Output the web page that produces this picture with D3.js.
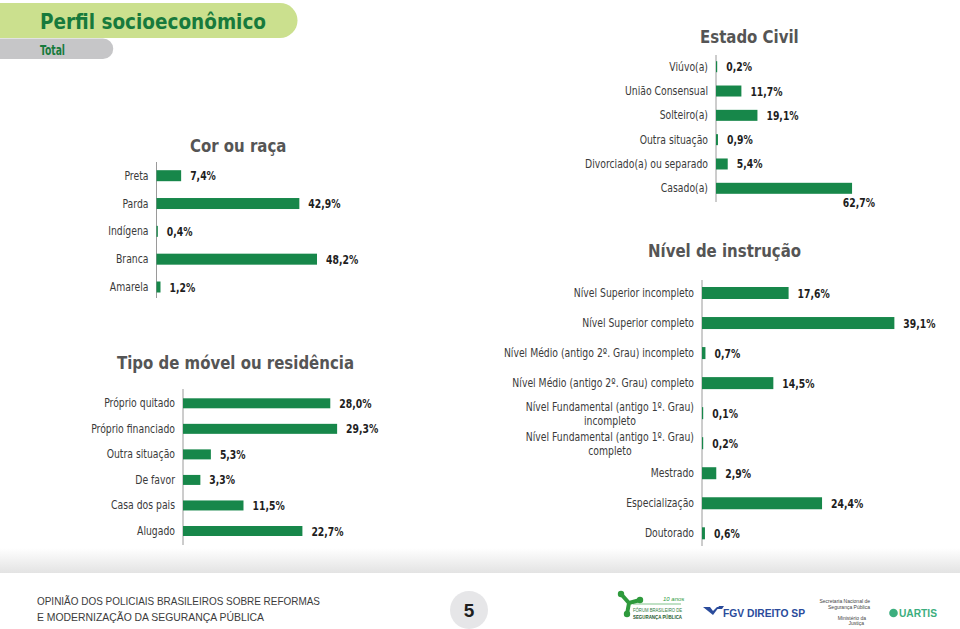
<!DOCTYPE html>
<html><head><meta charset="utf-8">
<script src="https://cdn.jsdelivr.net/npm/d3@7"></script>
<style>
html,body{margin:0;padding:0;background:#fff;}
svg{display:block;}
.cat{font-family:"DejaVu Sans Condensed","Liberation Sans Narrow",sans-serif;font-size:12px;fill:#3a3a3a;}
.val{font-family:"DejaVu Sans Condensed","Liberation Sans Narrow",sans-serif;font-size:12px;font-weight:bold;fill:#1e1e1e;}
.ttl{font-family:"DejaVu Sans Condensed","Liberation Sans Narrow",sans-serif;font-size:18.5px;font-weight:bold;fill:#555;}
</style></head>
<body>
<svg id="c" width="960" height="629"></svg>
<script>
// ---------- DATA ----------
const racaCategories = ["Preta","Parda","Indígena","Branca","Amarela"];
const racaValues = [7.4, 42.9, 0.4, 48.2, 1.2];

const civilCategories = ["Viúvo(a)","União Consensual","Solteiro(a)","Outra situação","Divorciado(a) ou separado","Casado(a)"];
const civilValues = [0.2, 11.7, 19.1, 0.9, 5.4, 62.7];

const instrucaoCategories = ["Nível Superior incompleto","Nível Superior completo","Nível Médio (antigo 2º. Grau) incompleto","Nível Médio (antigo 2º. Grau) completo","Nível Fundamental (antigo 1º. Grau)|incompleto","Nível Fundamental (antigo 1º. Grau)|completo","Mestrado","Especialização","Doutorado"];
const instrucaoValues = [17.6, 39.1, 0.7, 14.5, 0.1, 0.2, 2.9, 24.4, 0.6];

const moradiaCategories = ["Próprio quitado","Próprio financiado","Outra situação","De favor","Casa dos pais","Alugado"];
const moradiaValues = [28.0, 29.3, 5.3, 3.3, 11.5, 22.7];

const panelTitles = ["Cor ou raça","Estado Civil","Nível de instrução","Tipo de móvel ou residência"];
const footerLines = ["OPINIÃO DOS POLICIAIS BRASILEIROS SOBRE REFORMAS","E MODERNIZAÇÃO DA SEGURANÇA PÚBLICA"];
const pageNumber = "5";

// ---------- DRAW ----------
const svg = d3.select("#c");
const green = "#17874a";
const fmt = v => d3.format(".1f")(v).replace(".", ",") + "%";
const K = 0.86;
// text horizontally condensed through a transform
function ntext(parent, cls, x, y, str, anchor, k){
  const t = parent.append("text").attr("class",cls).attr("text-anchor",anchor||"start")
    .attr("x",0).attr("y",0).attr("transform",`translate(${x},${y}) scale(${k||K},1)`).text(str);
  return t;
}

// header
svg.append("path").attr("d","M0,3 H280 A17.5,17.5 0 0 1 280,38 H0 Z").attr("fill","#cbe08e");
svg.append("path").attr("d","M0,38.5 H103 A10.25,10.25 0 0 1 103,59 H0 Z").attr("fill","#c6c6c8");
svg.append("text").attr("x",40).attr("y",28.5).text("Perfil socioeconômico")
  .attr("font-family","'DejaVu Sans Condensed',sans-serif")
  .attr("font-size",21.5).attr("font-weight","bold").attr("fill","#177a3c")
  .attr("textLength",226).attr("lengthAdjust","spacingAndGlyphs");
svg.append("text").attr("x",40).attr("y",55).text("Total")
  .attr("font-family","'DejaVu Sans Condensed',sans-serif")
  .attr("font-size",14).attr("font-weight","bold").attr("fill","#177a3c")
  .attr("textLength",25).attr("lengthAdjust","spacingAndGlyphs");

function panel(o){
  const g = svg.append("g");
  const x = d3.scaleLinear().domain([0, 1]).range([o.axisX, o.axisX + o.pxPerUnit]);
  const y = d3.scalePoint().domain(o.cats).range([o.yFirst, o.yLast]);
  g.append("line").attr("x1",o.axisX).attr("x2",o.axisX)
    .attr("y1",o.axisTop).attr("y2",o.axisBottom).attr("stroke","#9a9a9a").attr("stroke-width",1);
  o.cats.forEach((c,i)=>{
    const v = o.vals[i], cy = y(c);
    g.append("rect").attr("x",x(0)).attr("y",cy - o.barH/2)
      .attr("width",Math.max(1.2, x(v)-x(0))).attr("height",o.barH).attr("fill",green);
    const lines = c.split("|");
    if(lines.length===1){
      ntext(g,"cat",o.axisX-8,cy+4,c,"end");
    } else {
      const t1 = ntext(g,"cat",o.axisX-8,cy-2.5,lines[0],"end");
      const w1 = t1.node().getComputedTextLength()*K;
      ntext(g,"cat",o.axisX-8-w1/2,cy+11.5,lines[1],"middle");
    }
    const vx = Math.max(x(v), x(0)+1.2) + 9;
    if(o.belowIdx===i){
      ntext(g,"val",x(v)+23,cy+19,fmt(v),"end");
    } else {
      ntext(g,"val",vx,cy+4.5,fmt(v),"start");
    }
  });
  ntext(svg,"ttl",o.titleX,o.titleY,o.title,"start",0.9);
}

panel({cats:racaCategories, vals:racaValues, axisX:156.5, pxPerUnit:3.33, yFirst:175.7, yLast:287,
  barH:11, axisTop:162, axisBottom:298, title:panelTitles[0], titleX:190, titleY:152});
panel({cats:civilCategories, vals:civilValues, axisX:716, pxPerUnit:2.17, yFirst:66.7, yLast:188.3,
  barH:11, axisTop:55, axisBottom:202, belowIdx:5, title:panelTitles[1], titleX:700, titleY:43});
panel({cats:instrucaoCategories, vals:instrucaoValues, axisX:702, pxPerUnit:4.92, yFirst:293, yLast:533.3,
  barH:12, axisTop:280, axisBottom:546, title:panelTitles[2], titleX:648, titleY:257});
panel({cats:moradiaCategories, vals:moradiaValues, axisX:183, pxPerUnit:5.26, yFirst:403.3, yLast:531,
  barH:10, axisTop:389, axisBottom:545, title:panelTitles[3], titleX:117, titleY:369});

// footer band
const defs = svg.append("defs");
const lg = defs.append("linearGradient").attr("id","fg").attr("x1",0).attr("y1",0).attr("x2",0).attr("y2",1);
lg.append("stop").attr("offset",0).attr("stop-color","#ffffff");
lg.append("stop").attr("offset",1).attr("stop-color","#e3e3e3");
svg.append("rect").attr("x",0).attr("y",548).attr("width",960).attr("height",25).attr("fill","url(#fg)");

const ff = "'Liberation Sans','DejaVu Sans',sans-serif";
footerLines.forEach((l,i)=>{
  svg.append("text").attr("x",37).attr("y",605+i*16).text(l)
    .attr("font-family",ff).attr("font-size",11.5).attr("fill","#3c3c3c")
    .attr("textLength", i===0?283:227).attr("lengthAdjust","spacingAndGlyphs");
});
svg.append("circle").attr("cx",469).attr("cy",610).attr("r",19).attr("fill","#e6e6e8");
svg.append("text").attr("x",469).attr("y",617).attr("text-anchor","middle").text(pageNumber)
  .attr("font-family",ff).attr("font-size",19).attr("font-weight","bold").attr("fill","#1e1e1e");

// logo: Fórum Brasileiro de Segurança Pública
const lf = svg.append("g");
lf.append("path").attr("d","M621,594 L629,603 L640,600 M629,603 L627,614")
  .attr("stroke","#2e9a3c").attr("stroke-width",4).attr("fill","none").attr("stroke-linecap","round");
[[621,594],[640,600],[627,614]].forEach(p=>lf.append("circle").attr("cx",p[0]).attr("cy",p[1]).attr("r",3.2).attr("fill","#2e9a3c"));
lf.append("text").attr("x",663).attr("y",601).text("10 anos").attr("font-family",ff).attr("font-style","italic")
  .attr("font-size",6).attr("fill","#2e9a3c");
lf.append("line").attr("x1",633).attr("x2",681).attr("y1",604).attr("y2",604).attr("stroke","#2e9a3c").attr("stroke-width",0.6);
lf.append("text").attr("x",633).attr("y",612).text("FÓRUM BRASILEIRO DE").attr("font-family",ff)
  .attr("font-size",5).attr("fill","#2e7a3c").attr("textLength",49).attr("lengthAdjust","spacingAndGlyphs");
lf.append("text").attr("x",633).attr("y",618.5).text("SEGURANÇA PÚBLICA").attr("font-family",ff)
  .attr("font-size",5).attr("font-weight","bold").attr("fill","#1e5a2c").attr("textLength",49).attr("lengthAdjust","spacingAndGlyphs");

// FGV DIREITO SP
svg.append("path").attr("d","M703,607 L710,607 L713,611 L717,607 L719,607 L713,615 Z M719,606 L724,606 L722,609 L717,609 Z")
  .attr("fill","#2a4b9b");
svg.append("text").attr("x",723).attr("y",617).text("FGV DIREITO SP").attr("font-family",ff)
  .attr("font-size",11.5).attr("font-weight","bold").attr("fill","#2a4b9b").attr("textLength",82)
  .attr("lengthAdjust","spacingAndGlyphs");

// Secretaria / Ministério
[["Secretaria Nacional de",870,603],["Segurança Pública",870,609],["Ministério da",866,619.5],["Justiça",864,625]].forEach(d=>{
  svg.append("text").attr("x",d[1]).attr("y",d[2]).attr("text-anchor","end").text(d[0])
    .attr("font-family",ff).attr("font-size",5).attr("fill","#444");
});

// QUARTIS
svg.append("circle").attr("cx",893.5).attr("cy",613).attr("r",4.3).attr("fill","#3cae7e");
svg.append("text").attr("x",899).attr("y",617).text("UARTIS").attr("font-family",ff)
  .attr("font-size",10.5).attr("font-weight","bold").attr("fill","#3cae7e").attr("textLength",38)
  .attr("lengthAdjust","spacingAndGlyphs");
</script>
</body></html>
